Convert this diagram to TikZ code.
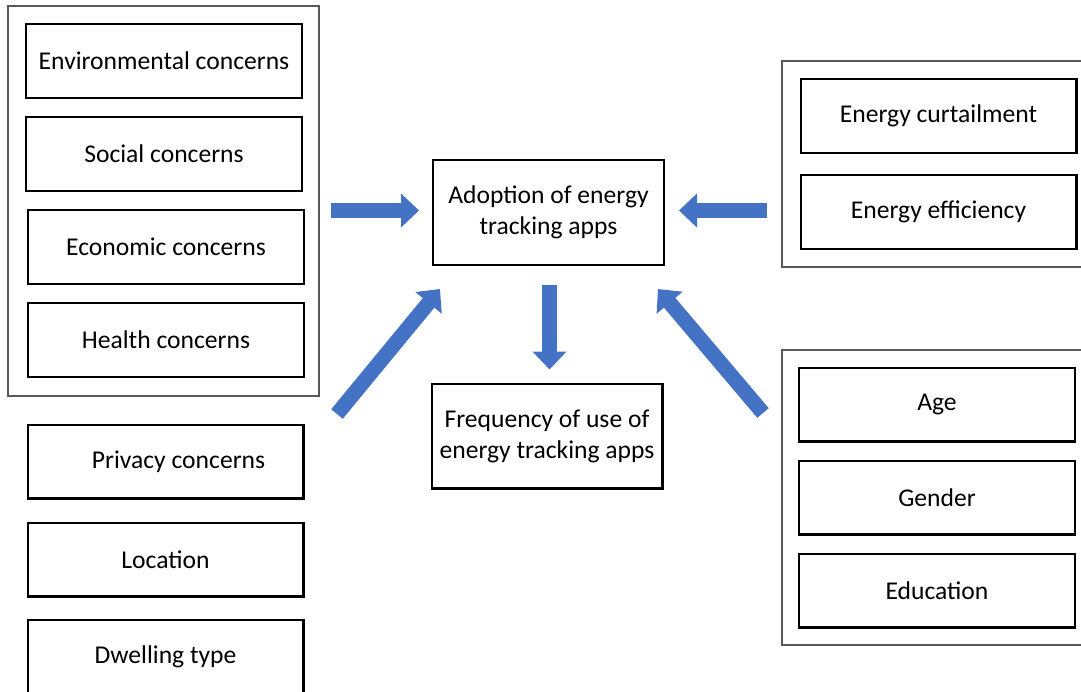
\documentclass[tikz,border=0pt]{standalone}
\usepackage{fontspec}
\setmainfont{Carlito}
\usepackage{tikz}
\usetikzlibrary{arrows.meta}
\usetikzlibrary{positioning}
\definecolor{arrowblue}{HTML}{4472C4}
\definecolor{framegray}{HTML}{595959}
\tikzstyle{factor} = [draw, line width=1.2pt, rectangle, inner sep=0pt,
    minimum width=137.8pt, minimum height=36.8pt, font=\fontsize{12.8}{15.5}\selectfont]
\tikzstyle{target} = [factor, minimum width=115.3pt, minimum height=52.3pt, align=center]
\tikzstyle{group} = [draw=framegray, line width=0.6pt, rectangle, inner sep=0pt]
\tikzstyle{flow} = [draw=arrowblue, line width=7.5pt, -{Triangle[width=16.5pt,length=9pt]}]

\begin{document}
\begin{tikzpicture}[x=0.5pt, y=-0.5pt]
      \useasboundingbox (0,0) rectangle (1081,691);
      \clip (0,0) rectangle (1081,691);

      \node [group, minimum width=155.5pt, minimum height=195pt] (leftgrp) at (163.5,201) {};
      \node [group, minimum width=160pt, minimum height=103pt] (topgrp) at (942,164) {};
      \node [group, minimum width=160pt, minimum height=147.5pt] (botgrp) at (942,497.5) {};

      \node [factor] (env) at (164,61) {Environmental concerns};
      \node [factor, below=8.5pt of env] (social) {Social concerns};
      \node [factor, below=8.5pt of social, xshift=1pt] (econ) {Economic concerns};
      \node [factor, below=8.5pt of econ] (health) {Health concerns};

      \node [factor] (privacy) at (165.5,461.5) {\hspace*{13pt}Privacy concerns};
      \node [factor, below=11pt of privacy] (location) {Location};
      \node [factor, below=10.5pt of location] (dwelling) {Dwelling type};

      \node [factor] (curtail) at (938.5,116) {Energy curtailment};
      \node [factor, below=10pt of curtail] (effic) {Energy efficiency};

      \node [factor] (age) at (937,404.5) {Age};
      \node [factor, below=8.5pt of age] (gender) {Gender};
      \node [factor, below=8.5pt of gender] (edu) {Education};

      \node [target] (adopt) at (548.5,212.5) {Adoption of energy\\tracking apps};
      \node [target] (freq) at (547,436) {Frequency of use of\\energy tracking apps};

      \coordinate (privtail) at (337,414);
      \coordinate (agetail) at (763,413);

      \draw [flow] ([shift={(-50.5pt,1pt)}]adopt.west) -- ([shift={(-6.5pt,1pt)}]adopt.west);
      \draw [flow] ([shift={(51pt,1pt)}]adopt.east) -- ([shift={(7pt,1pt)}]adopt.east);
      \draw [flow] ([shift={(0.5pt,-9.5pt)}]adopt.south) -- ([shift={(1.25pt,6.5pt)}]freq.north);
      \draw [flow] (privtail) -- ([shift={(4pt,-11.5pt)}]adopt.south west);
      \draw [flow] (agetail) -- ([shift={(-3.5pt,-11.5pt)}]adopt.south east);
    \end{tikzpicture}
\end{document}
